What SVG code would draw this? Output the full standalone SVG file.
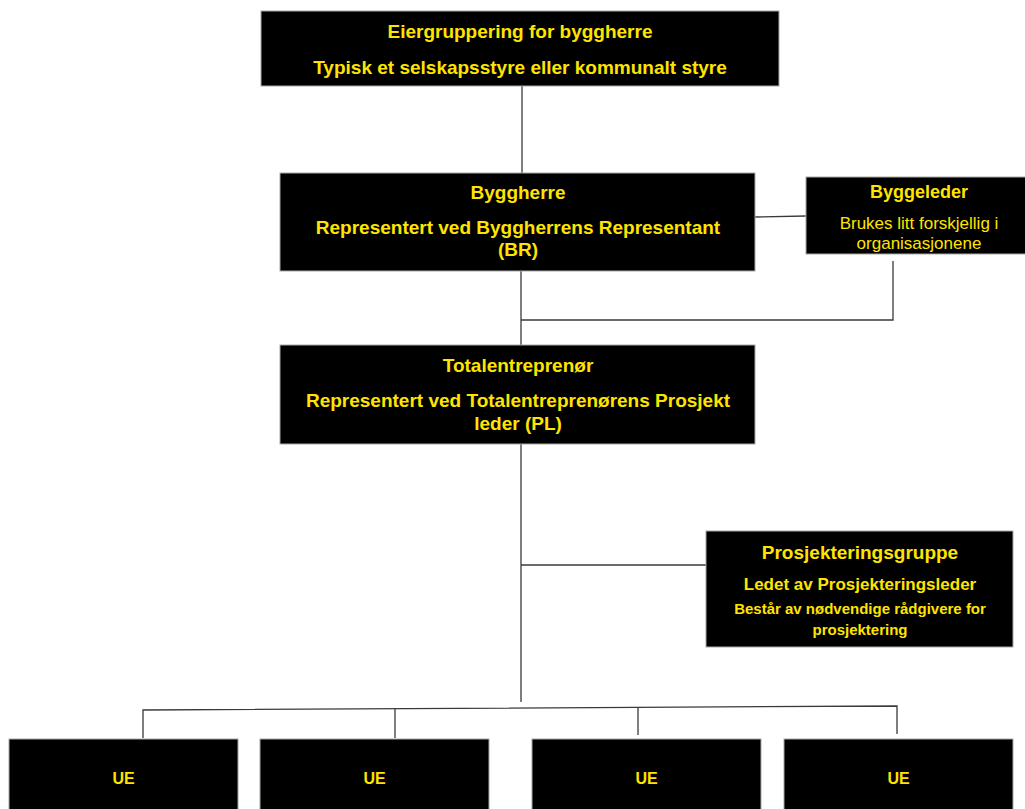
<svg xmlns="http://www.w3.org/2000/svg" width="1025" height="809" viewBox="0 0 1025 809">
<style>
.box{fill:#000;stroke:#a8a8a8;stroke-width:1}
.t{font-family:"Liberation Sans",Arial,sans-serif;fill:#FFE400;text-anchor:middle}
.b{font-weight:bold}
.ln{stroke:#3a3a3a;stroke-width:1.3;fill:none}
</style>
<rect width="1025" height="809" fill="#fff"/>
<g id="connectors">
<path class="ln" d="M522 86V173"/>
<path class="ln" d="M521 271V346"/>
<path class="ln" d="M755 217L806 216"/>
<path class="ln" d="M893 261V320H521"/>
<path class="ln" d="M521 444V702"/>
<path class="ln" d="M521 565H706"/>
<path class="ln" d="M143 738V710L897 706V734"/>
<path class="ln" d="M395 709V738"/>
<path class="ln" d="M638 707V735"/>
</g>
<g id="eier">
<rect class="box" x="261" y="11" width="518" height="75"/>
<text class="t b" x="520" y="38" font-size="19">Eiergruppering for byggherre</text>
<text class="t b" x="520" y="74" font-size="19">Typisk et selskapsstyre eller kommunalt styre</text>
</g>
<g id="byggherre">
<rect class="box" x="280" y="173" width="475" height="98"/>
<text class="t b" x="518" y="199" font-size="19">Byggherre</text>
<text class="t b" x="518" y="234" font-size="19">Representert ved Byggherrens Representant</text>
<text class="t b" x="518" y="256" font-size="19">(BR)</text>
</g>
<g id="byggeleder">
<rect class="box" x="806" y="177" width="225" height="77"/>
<text class="t b" x="919" y="198" font-size="18">Byggeleder</text>
<text class="t" x="919" y="229" font-size="17">Brukes litt forskjellig i</text>
<text class="t" x="919" y="249" font-size="17">organisasjonene</text>
</g>
<g id="totalentreprenor">
<rect class="box" x="280" y="345" width="475" height="99"/>
<text class="t b" x="518" y="372" font-size="19">Totalentreprenør</text>
<text class="t b" x="518" y="407" font-size="19">Representert ved Totalentreprenørens Prosjekt</text>
<text class="t b" x="518" y="430" font-size="19">leder (PL)</text>
</g>
<g id="prosjektering">
<rect class="box" x="706" y="531" width="307" height="116"/>
<text class="t b" x="860" y="559" font-size="19">Prosjekteringsgruppe</text>
<text class="t b" x="860" y="590" font-size="17">Ledet av Prosjekteringsleder</text>
<text class="t b" x="860" y="614" font-size="15">Består av nødvendige rådgivere for</text>
<text class="t b" x="860" y="635" font-size="15">prosjektering</text>
</g>
<g id="ue1">
<rect class="box" x="9" y="739" width="229" height="80"/>
<text class="t b" x="123.5" y="784" font-size="16">UE</text>
</g>
<g id="ue2">
<rect class="box" x="260" y="739" width="229" height="80"/>
<text class="t b" x="374.5" y="784" font-size="16">UE</text>
</g>
<g id="ue3">
<rect class="box" x="532" y="739" width="229" height="80"/>
<text class="t b" x="646.5" y="784" font-size="16">UE</text>
</g>
<g id="ue4">
<rect class="box" x="784" y="739" width="229" height="80"/>
<text class="t b" x="898.5" y="784" font-size="16">UE</text>
</g>
</svg>
